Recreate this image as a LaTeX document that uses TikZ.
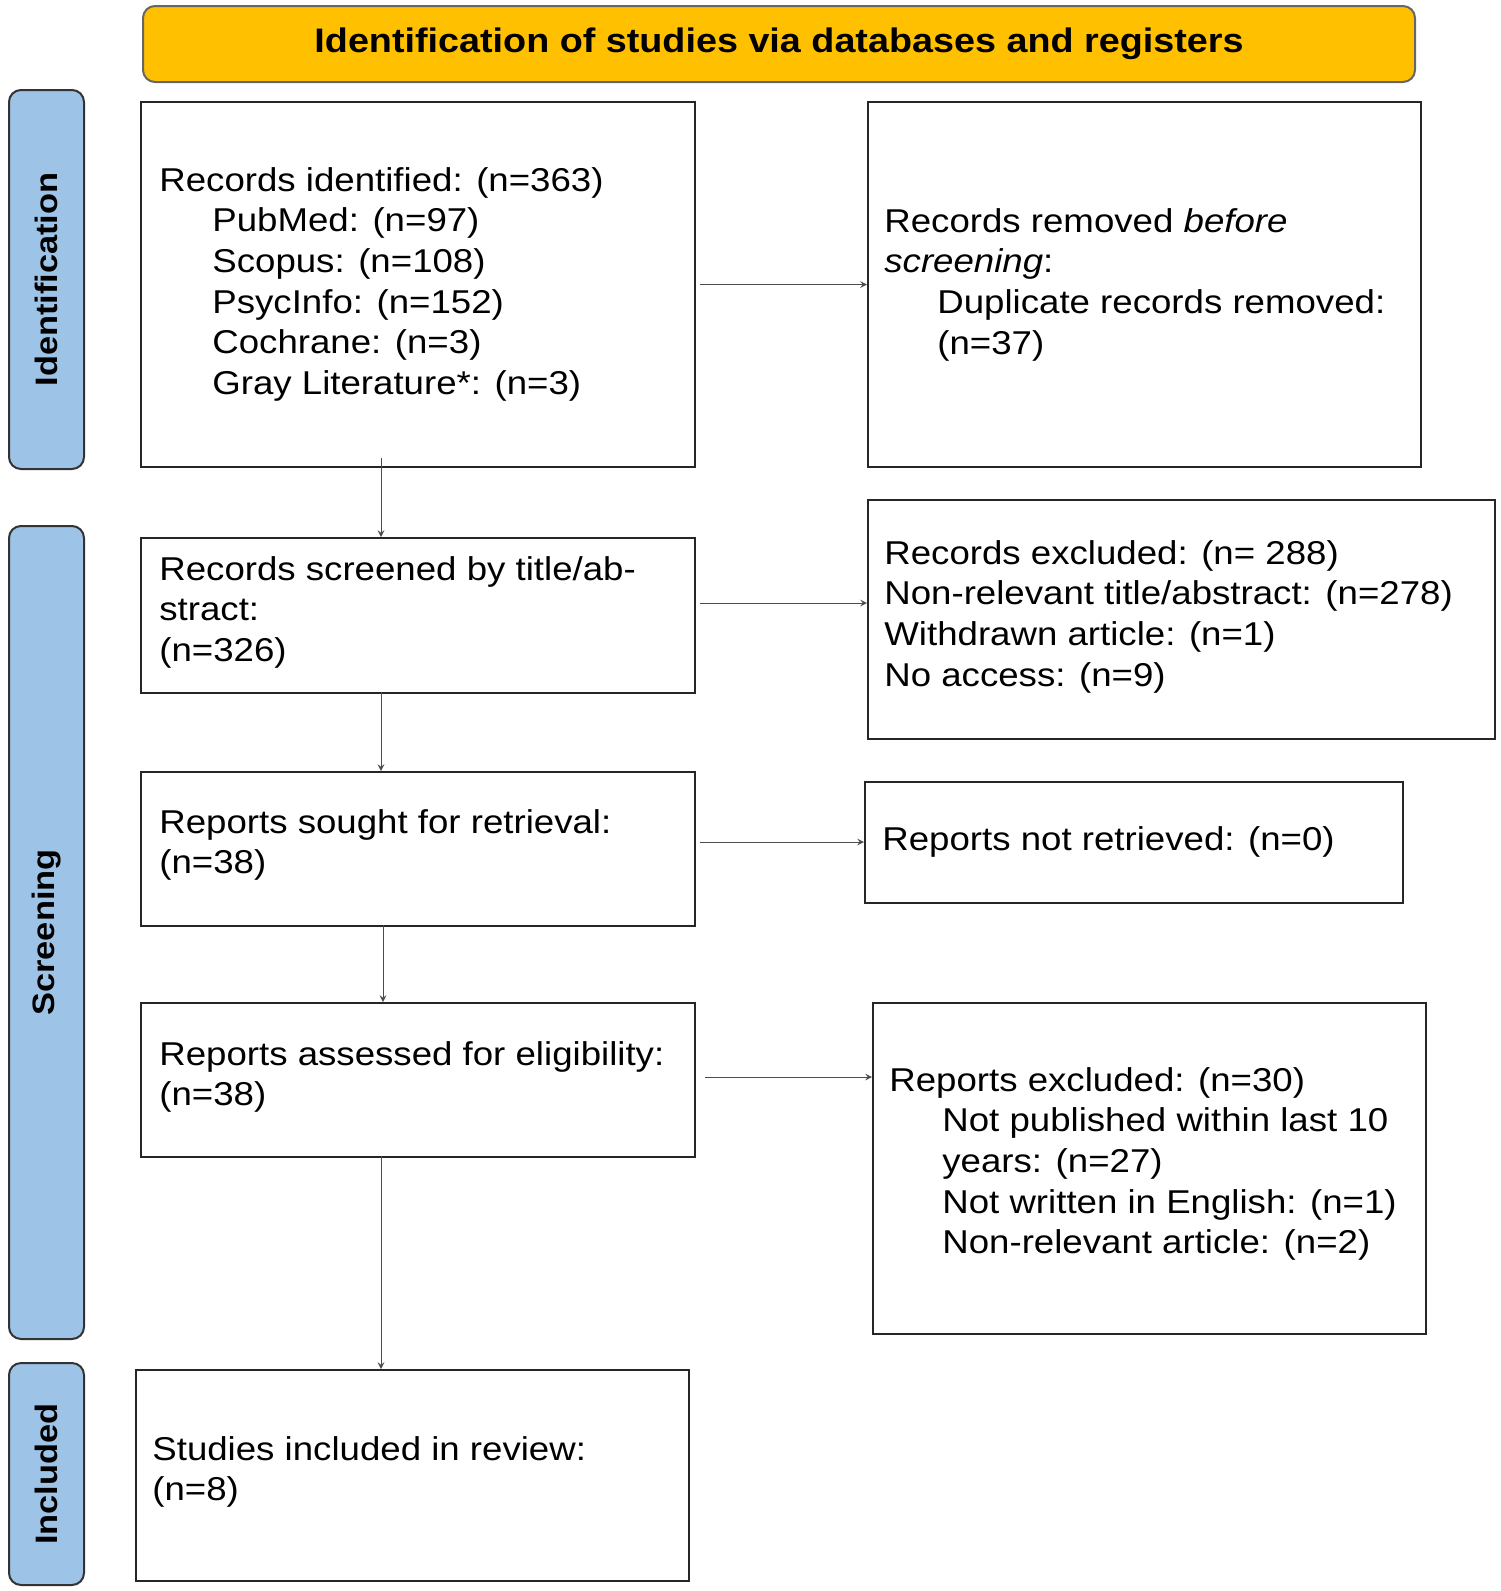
\documentclass[tikz,border=0pt]{standalone}
\usepackage{fontspec}
\setmainfont{Liberation Sans}[FakeStretch=1.11]
\begin{document}
\begin{tikzpicture}[x=0.5pt,y=-0.5pt,
  box/.style={draw=black!85,line width=1pt,anchor=north west,inner sep=0},
  side/.style={draw=black!80,fill=side,line width=1pt,rounded corners=6pt,anchor=north west,inner sep=0},
  txt/.style={anchor=north west,inner sep=0,align=left,font=\fontsize{16.5}{20.3}\selectfont},
  arr/.style={->,>=stealth,line width=0.5pt,draw=black!70},
  lab/.style={font=\fontsize{15.5}{18}\selectfont\bfseries,rotate=90}]
\definecolor{side}{HTML}{9DC3E6}
\definecolor{hdr}{HTML}{FFC000}
\useasboundingbox (0,0) rectangle (1500,1591);
\def\ind{\hspace*{26.5pt}}
% header
\node[box,fill=hdr,draw=black!60,rounded corners=6pt,minimum width=636pt,minimum height=38pt] (hd) at (142,5) {};
\node[font=\fontsize{17}{20}\selectfont\bfseries] (hdt) at (hd.center) {Identification of studies via databases and registers};
% side bars
\node[side,minimum width=37.5pt,minimum height=189.5pt] (s1) at (8,89) {};
\node[lab] (s1t) at (s1.center) {Identification};
\node[side,minimum width=37.5pt,minimum height=406.5pt] (s2) at (8,525) {};
\node[lab] (s2t) at (s2.center) {Screening};
\node[side,minimum width=37.5pt,minimum height=111pt] (s3) at (8,1362) {};
\node[lab] (s3t) at (s3.center) {Included};
% boxes
\node[box,minimum width=277pt,minimum height=182.5pt] (A) at (140,101) {};
\node[box,minimum width=276.5pt,minimum height=182.5pt] (B) at (867,101) {};
\node[box,minimum width=277pt,minimum height=77.5pt] (C) at (140,537) {};
\node[box,minimum width=313.5pt,minimum height=119.5pt] (D) at (867,499) {};
\node[box,minimum width=277pt,minimum height=77pt] (E) at (140,771) {};
\node[box,minimum width=269pt,minimum height=60.5pt] (F) at (864,781) {};
\node[box,minimum width=277pt,minimum height=77pt] (G) at (140,1002) {};
\node[box,minimum width=276.5pt,minimum height=165.5pt] (H) at (872,1002) {};
\node[box,minimum width=276.5pt,minimum height=105.5pt] (I) at (135,1369) {};
% texts
\node[txt] (At) at (159,167) {Records identified: (n=363)\\\ind PubMed: (n=97)\\\ind Scopus: (n=108)\\\ind PsycInfo: (n=152)\\\ind Cochrane: (n=3)\\\ind Gray Literature*: (n=3)};
\node[txt] (Bt) at (884,208) {Records removed \textit{before}\\\textit{screening}:\\\ind Duplicate records removed:\\\ind (n=37)};
\node[txt] (Ct) at (159,556) {Records screened by title/ab-\\stract:\\(n=326)};
\node[txt] (Dt) at (884,540) {Records excluded: (n= 288)\\Non-relevant title/abstract: (n=278)\\Withdrawn article: (n=1)\\No access: (n=9)};
\node[txt] (Et) at (159,809) {Reports sought for retrieval:\\(n=38)};
\node[txt] (Ft) at (882,826) {Reports not retrieved: (n=0)};
\node[txt] (Gt) at (159,1041) {Reports assessed for eligibility:\\(n=38)};
\node[txt] (Ht) at (889,1067) {Reports excluded: (n=30)\\\ind Not published within last 10\\\ind years: (n=27)\\\ind Not written in English: (n=1)\\\ind Non-relevant article: (n=2)};
\node[txt] (It) at (152,1436) {Studies included in review:\\(n=8)};
% arrows
\draw[arr] (381,458) -- (381,537);
\draw[arr] (381,692) -- (381,771);
\draw[arr] (383,925) -- (383,1002);
\draw[arr] (381,1156) -- (381,1369);
\draw[arr] ([xshift=2pt]A.east) -- (A.east -| B.west);
\draw[arr] (700,603) -- (867,603);
\draw[arr] (700,842) -- (864,842);
\draw[arr] (705,1077) -- (872,1077);
\end{tikzpicture}
\end{document}
